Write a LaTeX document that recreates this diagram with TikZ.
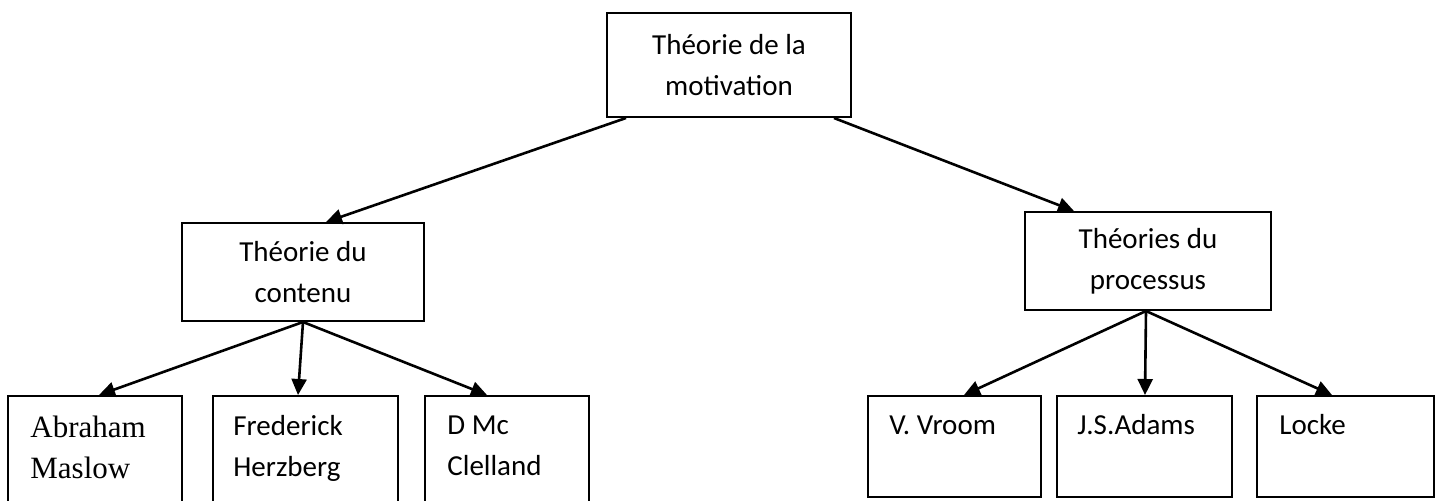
\documentclass[tikz,border=0pt]{standalone}
\usepackage{fontspec}
\setmainfont{Carlito}
\newfontfamily\timesf{Liberation Serif}
\usetikzlibrary{arrows.meta,fit}
\tikzset{
  box/.style={draw, line width=1pt, inner sep=0pt, align=center,
    font=\fontsize{14.5}{20.5}\selectfont},
  arr/.style={line width=1.3pt, -{Triangle[length=8pt,width=7.5pt]}},
  lbl/.style={anchor=base west, inner sep=0pt, align=left,
    font=\fontsize{14.5}{20.5}\selectfont},
  serif/.style={anchor=base west, inner sep=0pt, align=left,
    font=\timesf\fontsize{15.5}{20.5}\selectfont},
}
\begin{document}
\begin{tikzpicture}[x=0.5pt,y=-0.5pt]
\useasboundingbox (0,0) rectangle (1440,500);
% top
\node[box, fit={(607,13) (851,117)}] (top) {};
\node[box, draw=none] at (top.center) {Théorie de la\\motivation};
% middle
\node[box, fit={(182,223) (424,321)}] (lmid) {};
\node[box, draw=none] at (lmid.center) {Théorie du\\contenu};
\node[box, fit={(1025,212) (1271,310)}] (rmid) {};
\node[box, draw=none] at (rmid.center) {Théories du\\processus};
% bottom left
\node[box, fit={(8,396) (182,512)}] (maslow) {};
\node[box, fit={(213,396) (398,512)}] (herz) {};
\node[box, fit={(425,396) (589,512)}] (mccl) {};
% bottom right
\node[box, fit={(868,396) (1041,497)}] (vroom) {};
\node[box, fit={(1057,396) (1232,497)}] (adams) {};
\node[box, fit={(1257,396) (1434,497)}] (locke) {};
% texts
\node[serif] (tmaslow) at (30,478) {Abraham\\Maslow};
\node[lbl] (therz) at (233,476) {Frederick\\Herzberg};
\node[lbl] (tmccl) at (447,475) {D Mc\\Clelland};
\node[lbl] (tvroom) at (889,434) {V. Vroom};
\node[lbl] (tadams) at (1077,434) {J.S.Adams};
\node[lbl] (tlocke) at (1279,434) {Locke};
% arrows
\draw[arr] ([xshift=10pt]top.south west) -- ([xshift=72.5pt]lmid.north west);
\draw[arr] ([xshift=-9pt]top.south east) -- ([xshift=25pt]rmid.north west);
\draw[arr] (lmid.south) -- ([xshift=46pt]maslow.north west);
\draw[arr] (lmid.south) -- ([xshift=43pt]herz.north west);
\draw[arr] (lmid.south) -- ([xshift=31.5pt]mccl.north west);
\draw[arr] ([xshift=-1pt]rmid.south) -- ([xshift=48.5pt]vroom.north west);
\draw[arr] ([xshift=-1pt]rmid.south) -- ([xshift=44.5pt]adams.north west);
\draw[arr] ([xshift=-1pt]rmid.south) -- ([xshift=38pt]locke.north west);
\end{tikzpicture}
\end{document}
